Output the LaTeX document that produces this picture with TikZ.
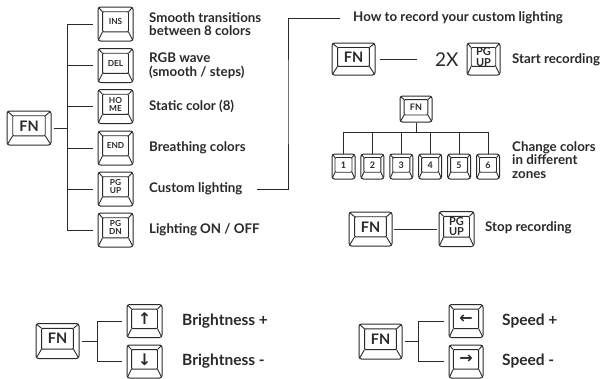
\documentclass[tikz,border=0pt]{standalone}
\usepackage{fontspec}
\setmainfont{Lato}
\newfontfamily\arrowfam{DejaVu Sans}
\usetikzlibrary{calc}
\definecolor{ink}{HTML}{2A2A2A}
\newcommand\kfnfont{\bfseries\fontsize{14.5}{14.5}\selectfont}
\newcommand\ksmallfont{\bfseries\fontsize{8.3}{8.3}\selectfont}
\newcommand\kpgfont{\bfseries\fontsize{11}{10.5}\selectfont}
\newcommand\kzonefont{\bfseries\fontsize{9}{9}\selectfont}
\newcommand\karrowfont{\arrowfam\bfseries\fontsize{16}{16}\selectfont}
\tikzset{
  keycap/.style={draw=ink, line width=1pt, rounded corners=2.5pt, inner sep=0pt, fill=white,
    path picture={
      \draw[ink, line width=0.9pt, sharp corners]
        let \p1=(path picture bounding box.south west),
            \p2=(path picture bounding box.north east),
            \n1={\x2-\x1}, \n2={\y2-\y1} in
        (\x1+0.13*\n1,\y1+0.27*\n2) -- (\x1,\y1)
        (\x2-0.13*\n1,\y1+0.27*\n2) -- (\x2,\y1)
        (\x1+0.13*\n1,\y2-0.14*\n2) -- (\x1,\y2)
        (\x2-0.13*\n1,\y2-0.14*\n2) -- (\x2,\y2);
      \draw[ink, line width=0.9pt, rounded corners=1pt]
        let \p1=(path picture bounding box.south west),
            \p2=(path picture bounding box.north east),
            \n1={\x2-\x1}, \n2={\y2-\y1} in
        (\x1+0.13*\n1,\y1+0.27*\n2) rectangle (\x2-0.13*\n1,\y2-0.14*\n2);
    }},
  keytext/.style={inner sep=0pt, text=ink, align=center},
  conn/.style={draw=ink, line width=1pt},
  lbl/.style={inner sep=0pt, anchor=west, text=ink, align=left,
    font=\bfseries\fontsize{13.3}{13.5}\selectfont},
  biglbl/.style={inner sep=0pt, anchor=west, text=ink, align=left,
    font=\bfseries\fontsize{15.5}{16}\selectfont}
}
% name, position, width, height, font, text
\newcommand\kcap[6]{%
  \node[keycap, minimum width=#3pt, minimum height=#4pt] (#1) at (#2) {};
  \node[keytext, font=#5] (#1t) at ([yshift=0.065*#4pt]#1.center) {#6};}
\begin{document}
\begin{tikzpicture}[x=1pt,y=-1pt]
\fill[white] (0,0) rectangle (601,378);
\useasboundingbox (0,0) rectangle (601,378);

% ---- left tree
\kcap{fn}{29,128}{44}{34}{\kfnfont}{FN}
\kcap{ins}{115.5,24}{35}{34}{\ksmallfont}{INS}
\kcap{del}{115.5,65.5}{35}{34}{\ksmallfont}{DEL}
\kcap{home}{115.5,106.5}{35}{34}{\ksmallfont}{HO\\ME}
\kcap{end}{115.5,148}{35}{34}{\ksmallfont}{END}
\kcap{pgup}{115.5,189}{35}{34}{\ksmallfont}{PG\\UP}
\kcap{pgdn}{115.5,230}{35}{34}{\ksmallfont}{PG\\DN}
\coordinate (tr) at (67,128);
\draw[conn, shorten <=2pt] (fn.east) -- (tr);
\foreach \k in {ins,del,home,end,pgup,pgdn}
  \draw[conn, shorten <=5pt] (\k.west) -| (tr);

\node[lbl] (l1) at (149,24) {Smooth transitions\\between 8 colors};
\node[lbl] (l2) at (149,65.5) {RGB wave\\(smooth / steps)};
\node[lbl] (l3) at (149,106.5) {Static color (8)};
\node[lbl] (l4) at (149,148) {Breathing colors};
\node[lbl] (l5) at (149,189) {Custom lighting};
\node[lbl] (l6) at (149,230) {Lighting ON / OFF};

% ---- recording
\node[lbl] (title) at (353,18) {How to record your custom lighting};
\coordinate (rt) at (288,100);
\draw[conn, shorten <=14pt, shorten >=13pt] (l5.east) -| (rt) |- (title.west);

\kcap{fnA}{353.5,59}{43}{32}{\kfnfont}{FN}
\node[inner sep=0pt, anchor=west, text=ink, font=\fontsize{19}{19}\selectfont] (twox) at (435,60) {2X};
\draw[conn, shorten <=4pt, shorten >=18pt] (fnA.east) -- (fnA.east -| twox.west);
\kcap{pgA}{483.5,59}{33}{32}{\kpgfont}{PG\\UP}
\node[lbl] (startrec) at (512,60) {Start recording};

\kcap{zfn}{416,109}{32}{26}{\kzonefont}{FN}
\coordinate (zbar) at (416,132);
\draw[conn] (zfn.south) -- (zbar);
\foreach \n in {1,...,6}{
  \kcap{z\n}{{343.5+28.9*(\n-1)},166.5}{23}{25}{\kzonefont}{\n}
  \draw[conn] (z\n.north) |- (zbar);
}
\node[lbl] (zones) at (512,160) {Change colors\\in different\\zones};

\kcap{fnB}{370.5,229}{43}{34}{\kfnfont}{FN}
\kcap{pgB}{456.5,229}{35}{35}{\kpgfont}{PG\\UP}
\draw[conn, shorten <=1pt, shorten >=2pt] (fnB.east) -- (fnB.east -| pgB.west);
\node[lbl] (stoprec) at (485,228) {Stop recording};

% ---- brightness
\kcap{fnC}{57.5,341}{43}{35}{\kfnfont}{FN}
\coordinate (trC) at (97,341);
\draw[conn, shorten <=2pt] (fnC.east) -- (trC);
\kcap{up}{144.5,321}{35}{33}{\karrowfont}{↑}
\kcap{down}{144.5,361.5}{35}{33}{\karrowfont}{↓}
\draw[conn, shorten <=5pt] (up.west) -| (trC);
\draw[conn, shorten <=5pt] (down.west) -| (trC);
\node[biglbl] (bplus) at (182,321.5) {Brightness +};
\node[biglbl] (bminus) at (182,361.5) {Brightness -};

% ---- speed
\kcap{fnD}{380.5,341.5}{43}{35}{\kfnfont}{FN}
\coordinate (trD) at (418,341.5);
\draw[conn, shorten <=2pt] (fnD.east) -- (trD);
\kcap{left}{466,321}{34}{33}{\karrowfont}{←}
\kcap{right}{466,361.5}{34}{33}{\karrowfont}{→}
\draw[conn, shorten <=5pt] (left.west) -| (trD);
\draw[conn, shorten <=5pt] (right.west) -| (trD);
\node[biglbl] (splus) at (502,321.5) {Speed +};
\node[biglbl] (sminus) at (502,361.5) {Speed -};
\end{tikzpicture}
\end{document}
